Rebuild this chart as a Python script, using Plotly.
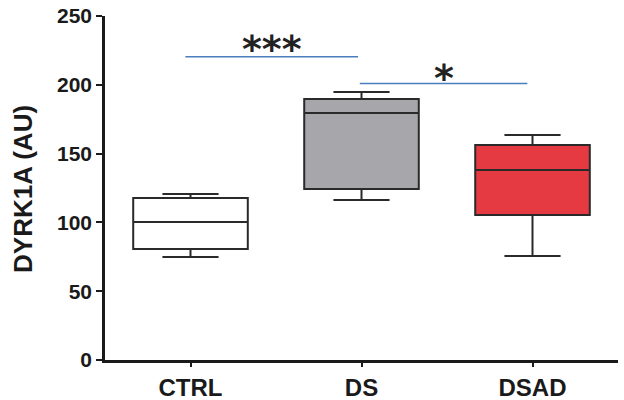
import plotly.graph_objects as go

categories = ["CTRL", "DS", "DSAD"]
q1 = [80.7, 124.3, 105.4]
median = [100.3, 179.5, 138.0]
q3 = [117.7, 189.7, 156.2]
lower_fence = [74.9, 116.3, 75.6]
upper_fence = [120.6, 194.8, 163.5]
fill_colors = ["#ffffff", "#a7a6ab", "#e53a42"]

# significance brackets
sig_x0 = [-0.03, 0.99]
sig_x1 = [0.98, 1.97]
sig_y = [220.4, 201.0]
sig_labels = ["***", "*"]
sig_shift = [-16, -19]

fig = go.Figure()
for i, cat in enumerate(categories):
    fig.add_trace(go.Box(
        x=[cat], q1=[q1[i]], median=[median[i]], q3=[q3[i]],
        lowerfence=[lower_fence[i]], upperfence=[upper_fence[i]],
        fillcolor=fill_colors[i],
        line=dict(color="#2a2a2a", width=2),
        width=0.67, whiskerwidth=0.49,
        boxpoints=False, showlegend=False, hoverinfo="skip",
    ))

for x0, x1, y, lab, sh in zip(sig_x0, sig_x1, sig_y, sig_labels, sig_shift):
    fig.add_shape(type="line", x0=x0, x1=x1, y0=y, y1=y, xref="x", yref="y",
                  line=dict(color="#4a7ebf", width=1.5))
    fig.add_annotation(x=(x0 + x1) / 2, y=y, text=lab, showarrow=False,
                       yanchor="bottom", yshift=sh,
                       font=dict(family="DejaVu Sans", size=38, color="#222222",
                                 weight="bold"))

fig.add_annotation(xref="paper", yref="paper", x=-0.160, y=0.497,
                   text="DYRK1A (AU)", textangle=-90, showarrow=False,
                   xanchor="center", yanchor="middle",
                   font=dict(size=26, weight="bold", family="Liberation Sans, Arial",
                             color="#1a1a1a"))

fig.update_layout(
    width=624, height=400,
    margin=dict(l=105, r=6, t=16, b=40, autoexpand=False),
    paper_bgcolor="white", plot_bgcolor="white",
    boxmode="overlay",
    font=dict(family="Liberation Sans, Arial", color="#1a1a1a"),
    xaxis=dict(
        type="category", range=[-0.5, 2.5], automargin=False,
        showline=True, linecolor="#1a1a1a", linewidth=2.5,
        ticks="outside", ticklen=4, tickwidth=2, tickcolor="#1a1a1a",
        tickfont=dict(size=24, family="Liberation Sans, Arial", weight="bold"),
        showgrid=False, zeroline=False,
    ),
    yaxis=dict(
        range=[0, 250], tickvals=[0, 50, 100, 150, 200, 250], automargin=False,
        ticklabeloverflow="allow",
        showline=True, linecolor="#1a1a1a", linewidth=2.5,
        ticks="outside", ticklen=6, tickwidth=2, tickcolor="#1a1a1a",
        tickfont=dict(size=21, family="Liberation Sans, Arial", weight="bold"),
        showgrid=False, zeroline=False,
    ),
)

fig.write_html("out.html", config={"displayModeBar": False},
               post_script="document.body.style.margin='0';")
